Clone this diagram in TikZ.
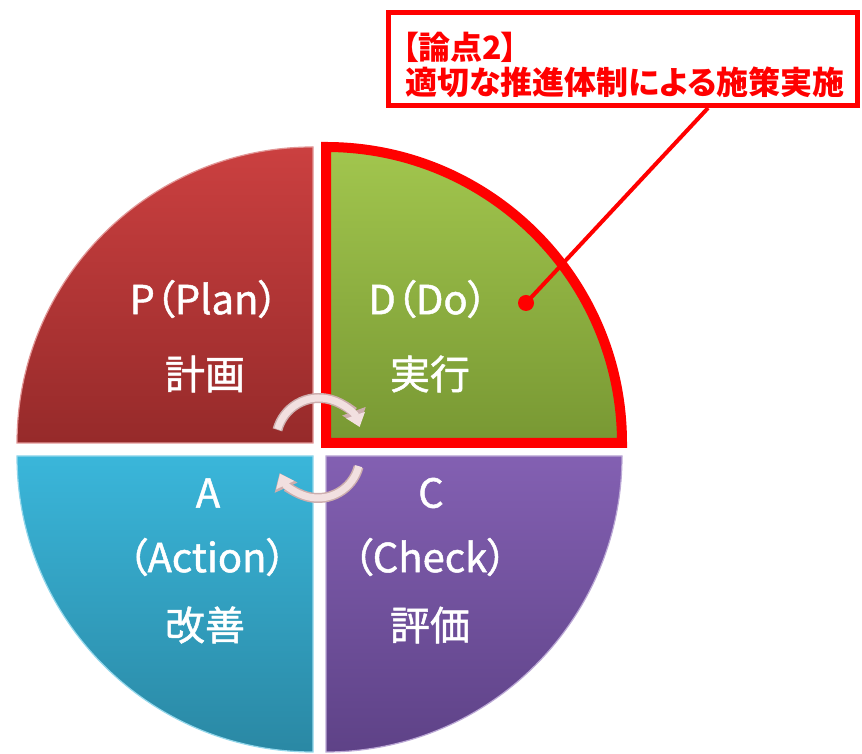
\documentclass[tikz,border=0pt]{standalone}
\usepackage{fontspec}
\setmainfont{Noto Sans CJK JP}[RawFeature=+palt]
\newfontfamily\lblfont{Noto Sans CJK JP}[RawFeature=+palt, FakeBold=1.2]
\usetikzlibrary{arrows.meta}
\definecolor{Ptop}{HTML}{CB4040}
\definecolor{Pbot}{HTML}{962A2A}
\definecolor{Dtop}{HTML}{A2C64E}
\definecolor{Dbot}{HTML}{789833}
\definecolor{Atop}{HTML}{3AB6DA}
\definecolor{Abot}{HTML}{2A88A4}
\definecolor{Ctop}{HTML}{8360B2}
\definecolor{Cbot}{HTML}{5E4287}
\definecolor{callred}{HTML}{FF0000}
\definecolor{arrowpink}{HTML}{F2E0E0}
\definecolor{arrowedge}{HTML}{CDAEAE}
\begin{document}
\begin{tikzpicture}[x=1pt,y=1pt,
  lbl/.style={text=white, font=\lblfont\fontsize{40}{44}\selectfont, inner sep=0pt, anchor=center},
  cycout/.style={line width=10pt, draw=arrowedge, -{Triangle[width=24pt,length=16pt]}},
  cycin/.style={line width=7pt, draw=arrowpink, -{Triangle[width=19pt,length=12.5pt]}},
  calltext/.style={text=callred, font=\bfseries\fontsize{32}{34}\selectfont, inner sep=0pt, anchor=west},
]
\useasboundingbox (0,0) rectangle (862,754);
\fill[white] (0,0) rectangle (862,754);
% quadrants
\path[top color=Ptop,bottom color=Pbot, draw=Ptop!55!white, line width=1.2pt]
  (313,311) -- (17,311) arc[start angle=180,end angle=90,radius=296] -- cycle;
\path[top color=Dtop,bottom color=Dbot]
  (326,311) -- (326,607) arc[start angle=90,end angle=0,radius=296] -- cycle;
\path[top color=Atop,bottom color=Abot, draw=Atop!55!white, line width=1.2pt]
  (313,298) -- (17,298) arc[start angle=180,end angle=270,radius=296] -- cycle;
\path[top color=Ctop,bottom color=Cbot, draw=Ctop!55!white, line width=1.2pt]
  (326,298) -- (622,298) arc[start angle=0,end angle=-90,radius=296] -- cycle;
% highlighted D border
\draw[callred, line width=10pt, line join=miter]
  (326,311) -- (326,607) arc[start angle=90,end angle=0,radius=296] -- cycle;
% cycle arrows
\draw[cycout] (319,313) ++(165:43) arc[start angle=165,end angle=20,radius=43];
\draw[cycin] (319,313) ++(164:43) arc[start angle=164,end angle=19,radius=43];
\draw[cycout] (318,298) ++(-15:42) arc[start angle=-15,end angle=-156,radius=42];
\draw[cycin] (318,298) ++(-14:42) arc[start angle=-14,end angle=-155,radius=42];
% labels
\node[lbl] (Pt) at (204,455) {P（Plan）};
\node[lbl] (Pj) at (205,380) {計画};
\node[lbl] (Dt) at (428,455) {D（Do）};
\node[lbl] (Dj) at (430,380) {実行};
\node[lbl] (At) at (208,261) {A};
\node[lbl] (Aa) at (207,197) {（Action）};
\node[lbl] (Aj) at (205,129) {改善};
\node[lbl] (Ct) at (431,261) {C};
\node[lbl] (Ca) at (430,197) {（Check）};
\node[lbl] (Cj) at (430,129) {評価};
% callout
\coordinate (lt) at (708,646);
\coordinate (dot) at (526,451);
\draw[callred, line width=4pt] (lt) -- (dot);
\fill[callred] (dot) circle (8);
\draw[callred, line width=5pt, fill=white] (388.5,648.5) rectangle (857.5,741.5);
\node[calltext] (t1) at (402,707) {【論点2】};
\node[calltext] (t2) at (405,672) {適切な推進体制による施策実施};
\end{tikzpicture}
\end{document}
